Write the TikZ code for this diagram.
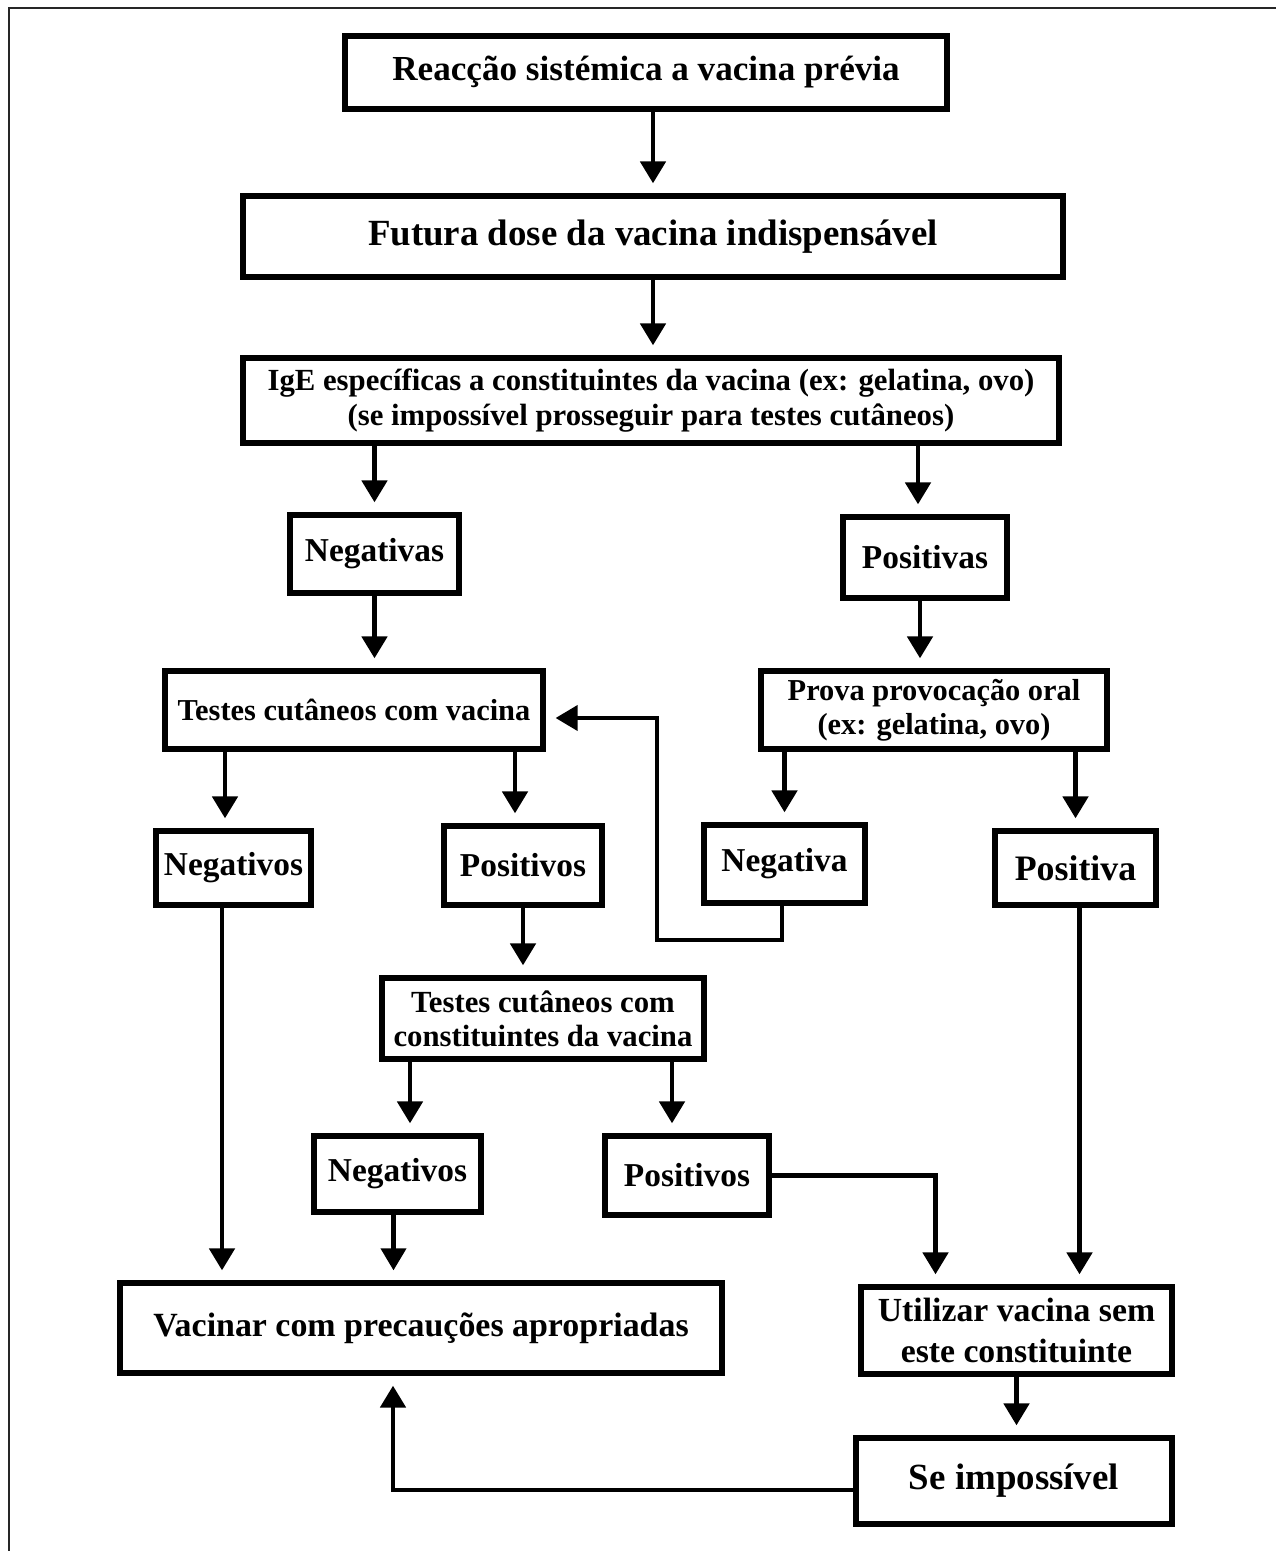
\documentclass[tikz,border=0pt]{standalone}
\usepackage{fontspec}
\setmainfont{Liberation Serif}
\usetikzlibrary{arrows.meta}
\newcommand{\fsz}[2]{\fontsize{#1}{#2}\selectfont\bfseries}

\begin{document}
\begin{tikzpicture}[x=0.02cm, y=-0.02cm,
		box_style/.style 2 args={draw=black, line width=3pt, align=center, inner sep=0pt,
			minimum width=#1*0.02cm, minimum height=#2*0.02cm},
		arrow_style/.style={draw=black, line width=2.8pt, -{Triangle[length=0.44cm, width=0.5cm]}, shorten >=0.2cm},
		thin_arrow/.style={arrow_style, line width=2.3pt},
		frame_style/.style={draw=black!85, line width=1.6pt}]

		\useasboundingbox (0,0) rectangle (1276,1551);
		\draw[frame_style] (9,1551) -- (9,8) -- (1276,8);

		\node[box_style={602}{73}, font=\fsz{20}{24}] (n0) at (646,72.5) {Reacção sistémica a vacina prévia};
		\node[box_style={820}{81}, font=\fsz{21}{25}] (n1) at (653,236.5) {Futura dose da vacina indispensável};
		\node[box_style={816}{85}, font=\fsz{17.5}{20}] (n2) at (651,400.5) {IgE específicas a constituintes da vacina (ex: gelatina, ovo)\\(se impossível prosseguir para testes cutâneos)};
		\node[box_style={169}{78}, font=\fsz{19}{22}] (n3) at (374.5,554) {Negativas};
		\node[box_style={164}{81}, font=\fsz{19}{22}] (n4) at (925,557.5) {Positivas};
		\node[box_style={378}{78}, font=\fsz{17.3}{20}] (n5) at (354,710) {Testes cutâneos com vacina};
		\node[box_style={346}{78}, font=\fsz{17.3}{19.3}] (n6) at (934,710) {Prova provocação oral\\(ex: gelatina, ovo)};
		\node[box_style={155}{74}, font=\fsz{19}{22}] (n7) at (233.5,868) {Negativos};
		\node[box_style={158}{79}, font=\fsz{19}{22}] (n8) at (523,865.5) {Positivos};
		\node[box_style={161}{78}, font=\fsz{19}{22}] (n9) at (784.5,864) {Negativa};
		\node[box_style={161}{74}, font=\fsz{20.4}{23}] (n10) at (1075.5,868) {Positiva};
		\node[box_style={322}{81}, font=\fsz{17.5}{19.3}] (n11) at (543,1018.5) {Testes cutâneos com\\constituintes da vacina};
		\node[box_style={167}{76}, font=\fsz{19}{22}] (n12) at (397.5,1174) {Negativos};
		\node[box_style={164}{79}, font=\fsz{19}{22}] (n13) at (687,1175.5) {Positivos};
		\node[box_style={602}{90}, font=\fsz{19.3}{22}] (n14) at (421,1328) {Vacinar com precauções apropriadas};
		\node[box_style={311}{87}, font=\fsz{19.2}{23.2}] (n15) at (1016.5,1330.5) {Utilizar vacina sem\\este constituinte};
		\node[box_style={316}{86}, font=\fsz{21}{24}] (n16) at (1014,1481) {Se impossível};

		\coordinate (c0) at (657,940);

		\draw[arrow_style] (n1.north |- n0.south) -- (n1.north);
		\draw[arrow_style] (n1.south) -- (n1.south |- n2.north);
		\draw[arrow_style] (n3.north |- n2.south) -- (n3.north);
		\draw[arrow_style] ([xshift=-0.14cm]n4.north |- n2.south) -- ([xshift=-0.14cm]n4.north);
		\draw[arrow_style] (n3.south) -- (n3.south |- n5.north);
		\draw[arrow_style] ([xshift=-0.1cm]n4.south) -- ([xshift=-0.1cm]n4.south |- n6.north);
		\draw[arrow_style] ([xshift=-0.17cm]n7.north |- n5.south) -- ([xshift=-0.17cm]n7.north);
		\draw[arrow_style] ([xshift=-0.16cm]n8.north |- n5.south) -- ([xshift=-0.16cm]n8.north);
		\draw[arrow_style] (n9.north |- n6.south) -- (n9.north);
		\draw[arrow_style] (n10.north |- n6.south) -- (n10.north);
		\draw[arrow_style] (n8.south) -- (n8.south |- n11.north);
		\draw[arrow_style] ([xshift=0.25cm]n12.north |- n11.south) -- ([xshift=0.25cm]n12.north);
		\draw[arrow_style] ([xshift=-0.3cm]n13.north |- n11.south) -- ([xshift=-0.3cm]n13.north);
		\draw[arrow_style] ([xshift=-0.23cm]n7.south) -- ([xshift=-0.23cm]n7.south |- n14.north);
		\draw[thin_arrow] ([xshift=-0.08cm]n12.south) -- ([xshift=-0.08cm]n12.south |- n14.north);
		\draw[arrow_style] (n13.east) -| ([xshift=-1.62cm]n15.north);
		\draw[arrow_style] ([xshift=0.08cm]n10.south) -- ([xshift=0.08cm]n10.south |- n15.north);
		\draw[arrow_style] (n15.south) -- (n15.south |- n16.north);
		\draw[arrow_style] ([yshift=-0.18cm]n16.west) -| ([xshift=-0.56cm]n14.south);
		\draw[thin_arrow] ([xshift=-0.05cm]n9.south) |- (c0) |- ([yshift=-0.16cm]n5.east);

\end{tikzpicture}
\end{document}
